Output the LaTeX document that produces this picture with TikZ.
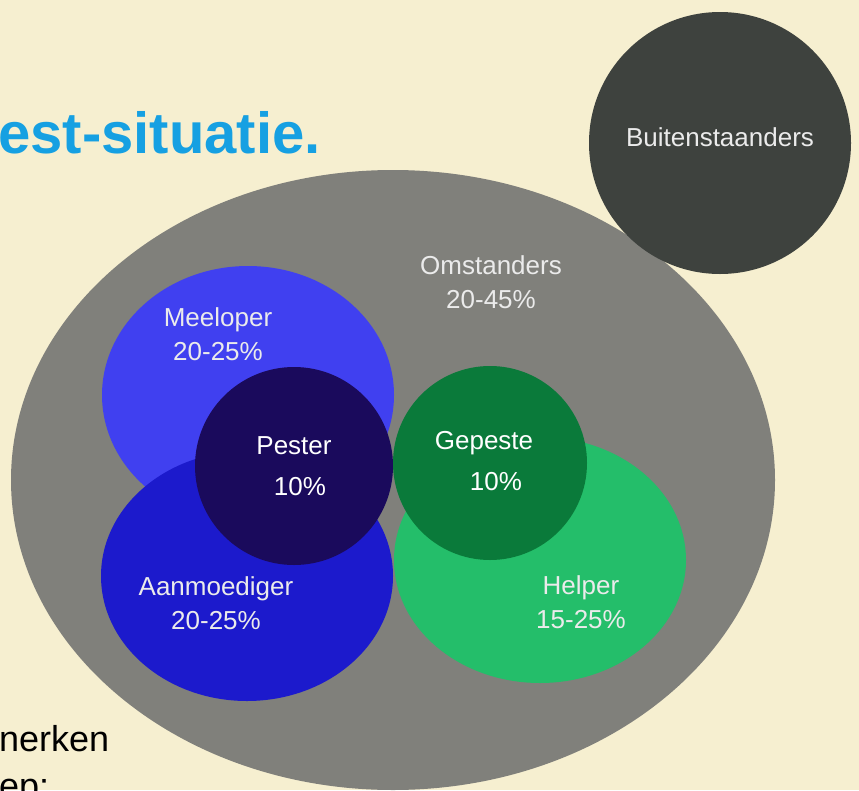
\documentclass[tikz,border=0pt]{standalone}
\usepackage{fontspec}
\setmainfont{Liberation Sans}
\definecolor{achtergrond}{RGB}{246,239,208}
\definecolor{titelblauw}{RGB}{22,160,226}
\definecolor{omstandergrijs}{RGB}{128,128,123}
\definecolor{buitengrijs}{RGB}{62,66,62}
\definecolor{meeloperblauw}{RGB}{64,64,240}
\definecolor{aanmoedigerblauw}{RGB}{28,26,204}
\definecolor{pesterpaars}{RGB}{26,10,92}
\definecolor{gepestegroen}{RGB}{10,122,58}
\definecolor{helpergroen}{RGB}{36,190,106}
\begin{document}
\begin{tikzpicture}[x=1pt, y=-1pt, line join=round, line cap=round,
	lbl/.style={text=white!92!black, align=center, inner sep=0pt, font=\fontsize{26}{34}\selectfont},
	sterk/.style={lbl, text=white, font=\fontsize{26}{41}\selectfont}]
			\def\W{859}
			\def\H{790}
			\useasboundingbox (0,0) rectangle (\W,\H);
			\clip (0,0) rectangle (\W,\H);
			\fill [achtergrond] (0,0) rectangle (\W,\H);
			% Tekst aan de rand
			\node [anchor=base west, inner sep=0pt, text=titelblauw, font=\fontsize{58}{60}\selectfont\bfseries] (titel) at (-2,153) {est-situatie.};
			\node [anchor=base west, inner sep=0pt, font=\fontsize{36}{44}\selectfont] (regel1) at (-1,751) {nerken};
			\node [anchor=base west, inner sep=0pt, font=\fontsize{36}{44}\selectfont] (regel2) at (-1,798) {ep:};
			% Omstanders
			\fill [omstandergrijs] (393,480) ellipse [x radius=382pt, y radius=310pt];
			% Groepen binnen de omstanders
			\fill [meeloperblauw] (248,395) ellipse [x radius=146pt, y radius=129pt];
			\fill [aanmoedigerblauw] (247,576) ellipse [x radius=146pt, y radius=125pt];
			\fill [helpergroen] (540,560) ellipse [x radius=146pt, y radius=123pt];
			\fill [pesterpaars] (294,466) circle (99pt);
			\fill [gepestegroen] (490,463) circle (97pt);
			% Buitenstaanders
			\fill [buitengrijs] (720,143) circle (131pt);
			%
			\node [lbl] (omstanders) at (491,282) {Omstanders\\20-45\%};
			\node [lbl] (meeloper) at (218,334) {Meeloper\\20-25\%};
			\node [lbl] (aanmoediger) at (216,603) {Aanmoediger\\20-25\%};
			\node [lbl] (helper) at (581,602) {Helper\\15-25\%};
			\node [sterk] (pester) at (294,466) {Pester\\\hspace*{12pt}10\%};
			\node [sterk] (gepeste) at (484,461) {Gepeste\\\hspace*{24pt}10\%};
			\node [lbl] (buiten) at (720,137) {Buitenstaanders};
	\end{tikzpicture}
\end{document}
